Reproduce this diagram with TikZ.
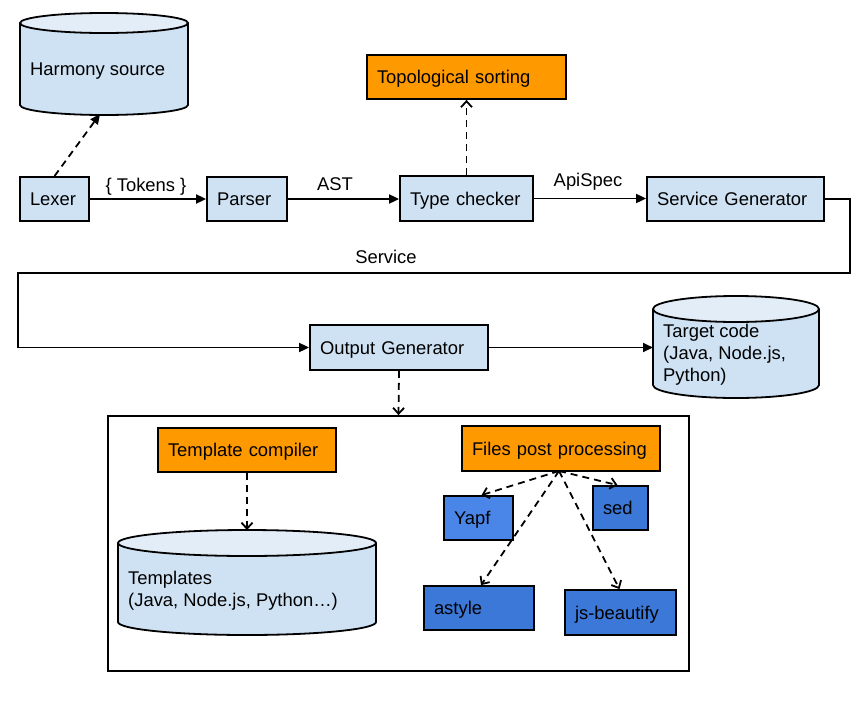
\documentclass[tikz,border=0pt]{standalone}
\usepackage{fontspec}
\setmainfont{Liberation Sans}
\usetikzlibrary{arrows.meta}
\definecolor{lblue}{HTML}{CFE2F3}
\definecolor{ltop}{HTML}{E2EDF8}
\definecolor{orng}{HTML}{FF9900}
\definecolor{bluea}{HTML}{4A86E8}
\definecolor{blueb}{HTML}{3C78D8}
\newcommand\mycyl[5]{%
  \fill[lblue,draw=black,line width=1.8pt] ({(#1+#2)/2},#4) ellipse[x radius={(#2-#1)/2*1pt}, y radius=#5pt];
  \fill[lblue] (#1,#3) rectangle (#2,#4);
  \draw[line width=1.8pt] (#1,#3) -- (#1,#4) (#2,#3) -- (#2,#4);
  \fill[ltop,draw=black,line width=1.8pt] ({(#1+#2)/2},#3) ellipse[x radius={(#2-#1)/2*1pt}, y radius=#5pt];
}
\begin{document}
\begin{tikzpicture}[x=1pt,y=-1pt,
  txt/.style={font=\fontsize{18.4}{22}\selectfont},
  bx/.style={txt,draw=black,line width=1.8pt,fill=lblue,inner xsep=10pt,inner ysep=0pt,
    text height=13.2pt,text depth=0pt,align=left},
  lbl/.style={txt,inner sep=0pt,text height=13.2pt,text depth=0pt},
  mtxt/.style={txt,inner sep=0pt,align=left,anchor=west},
  arr/.style={line width=1.8pt,-{Triangle[length=10pt,width=9pt]}},
  darr/.style={line width=1.8pt,dash pattern=on 7pt off 5pt,-{Straight Barb[length=6pt,width=11pt]}},
  darrf/.style={line width=1.8pt,dash pattern=on 7pt off 5pt,-{Triangle[length=10pt,width=9pt]}},
]
\useasboundingbox (0,0) rectangle (859,707);

% cylinders
\mycyl{20}{188}{23}{105}{10}
\node[mtxt] (hs) at (30,71) {Harmony source};
\coordinate (hsin) at (100,114);

\mycyl{653}{819}{309}{385}{13}
\node[mtxt] (tgt) at (663,355) {Target code\\(Java, Node.js,\\Python)};
\coordinate (tgtin) at (653,347.5);

% boxes row 1
\node[bx,text width=49pt,minimum height=44pt] (lexer) at (54.5,199) {Lexer};
\node[bx,text width=60pt,minimum height=44pt] (parser) at (247,199) {Parser};
\node[bx,text width=113pt,minimum height=45pt] (tc) at (466.5,198.5) {Type checker};
\node[bx,text width=157pt,minimum height=44pt] (sg) at (735.5,199) {Service Generator};
\node[bx,fill=orng,text width=179pt,minimum height=44pt] (topo) at (466.5,77) {Topological sorting};

\node[bx,text width=158pt,minimum height=45pt] (og) at (399,347.5) {Output Generator};

% big box
\node[draw=black,line width=1.8pt,minimum width=581pt,minimum height=255pt,inner sep=0pt] (big) at (398.5,543.5) {};

\node[bx,fill=orng,text width=158pt,minimum height=44pt] (tcomp) at (247,450) {Template compiler};
\mycyl{118}{376}{543}{622}{13}
\node[mtxt] (tmpl) at (128,591) {Templates\\(Java, Node.js, Python…)};
\coordinate (tmplin) at (247,530);

\node[bx,fill=orng,text width=178pt,minimum height=45pt] (fpp) at (561,448.5) {Files post processing};
\node[bx,fill=bluea,text width=49pt,minimum height=44pt] (yapf) at (478.5,518) {Yapf};
\node[bx,fill=blueb,text width=35pt,minimum height=44pt] (sed) at (620.5,508) {sed};
\node[bx,fill=blueb,text width=90pt,minimum height=44pt] (astyle) at (479,608) {astyle};
\node[bx,fill=blueb,text width=91pt,minimum height=45pt] (jsb) at (620.5,612.5) {js-beautify};
\coordinate (fsrc) at (559,471);

% labels
\node[lbl] (ltok) at (146,184.5) {\{ Tokens \}};
\node[lbl] (last) at (335,183.5) {AST};
\node[lbl] (lapi) at (588,180) {ApiSpec};
\node[lbl] (lsvc) at (386,257) {Service};

% connectors
\draw[arr] (lexer) -- (parser);
\draw[arr] (parser.east) -- (parser.east -| tc.west);
\draw[arr] (tc.east) -- (tc.east -| sg.west);
\draw[darrf] (lexer.north) -- (hsin);
\draw[darr] (tc.north) -- (topo.south);
\coordinate (r1) at (850,273);
\coordinate (l1) at (18,273);
\draw[arr] (sg.east) -| (r1) -- (l1) |- (og.west);
\draw[arr] (og.east) -- (tgtin);
\draw[darr] (og.south) -- (big.north);
\draw[darr] (tcomp.south) -- (tmplin);
\draw[darr] (fsrc) -- ([xshift=3pt]yapf.north);
\draw[darr] (fsrc) -- ([xshift=-3pt]sed.north);
\draw[darr] (fsrc) -- ([xshift=2pt]astyle.north);
\draw[darr] (fsrc) -- ([xshift=-1pt]jsb.north);
\end{tikzpicture}
\end{document}
